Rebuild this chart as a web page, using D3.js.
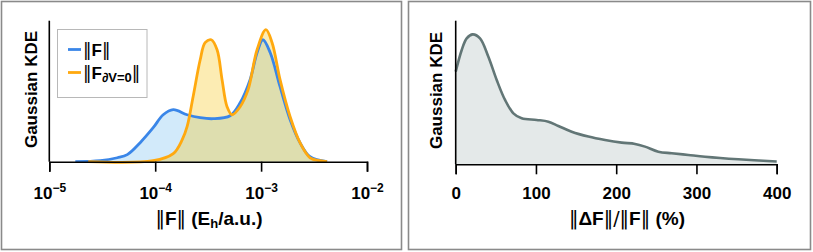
<!DOCTYPE html>
<html>
<head>
<meta charset="utf-8">
<script src="https://cdn.jsdelivr.net/npm/d3@7"></script>
<style>
  html, body { margin: 0; padding: 0; background: #fff; }
  svg { display: block; }
  text { font-family: "Liberation Sans", "DejaVu Sans", sans-serif; font-weight: bold; fill: #000; }
  .bar { font-family: "DejaVu Sans", sans-serif; font-weight: normal; }
</style>
</head>
<body>
<svg id="chart" width="813" height="252"></svg>
<script>
// ---------- data ----------
// Left panel: Gaussian KDE of ||F|| (Eh/a.u.), log x axis
const forceF_x = [1.76e-5, 3.03e-5, 4.39e-5, 5.45e-5, 7.21e-5, 9.57e-5, 1.19e-4, 1.48e-4, 2.00e-4, 2.66e-4,
                  3.52e-4, 5.10e-4, 6.34e-4, 7.87e-4, 9.16e-4, 1.04e-3, 1.22e-3, 1.51e-3, 1.88e-3, 2.33e-3,
                  2.90e-3, 4.20e-3];
const forceF_kde = [0.0, 0.007, 0.028, 0.05, 0.135, 0.241, 0.333, 0.369, 0.333, 0.312,
                    0.305, 0.326, 0.418, 0.582, 0.773, 0.865, 0.773, 0.532, 0.298, 0.135,
                    0.035, 0.0];
const forceF0_x = [2.33e-5, 9.57e-5, 1.48e-4, 1.80e-4, 2.00e-4, 2.28e-4, 2.66e-4, 2.96e-4, 3.38e-4, 3.84e-4,
                   4.28e-4, 4.77e-4, 5.32e-4, 6.34e-4, 7.54e-4, 9.16e-4, 1.11e-3, 1.27e-3, 1.51e-3, 1.88e-3,
                   2.33e-3, 2.90e-3, 3.60e-3, 4.20e-3];
const forceF0_kde = [0.0, 0.007, 0.057, 0.156, 0.248, 0.461, 0.723, 0.844, 0.865, 0.794,
                     0.582, 0.39, 0.333, 0.39, 0.511, 0.794, 0.936, 0.844, 0.582, 0.319,
                     0.135, 0.028, 0.007, 0.0];
const leftTickExponents = [-5, -4, -3, -2];

// Right panel: Gaussian KDE of ||ΔF||/||F|| (%)
const relDiff_x = [0, 7.5, 13.7, 21.2, 30.3, 40.7, 51.1, 61.5, 71.9, 82.2, 100.9, 115.5, 127.9, 144.5,
                   165.3, 186.1, 206.9, 223.5, 235.9, 252.5, 269.2, 289.9, 310.7, 352.2, 400];
const relDiff_kde = [0.645, 0.796, 0.877, 0.905, 0.877, 0.749, 0.587, 0.448, 0.355, 0.320, 0.309, 0.297,
                     0.267, 0.227, 0.193, 0.169, 0.151, 0.142, 0.123, 0.088, 0.077, 0.065, 0.053, 0.035, 0.019];
const rightTicks = [0, 100, 200, 300, 400];

// ---------- drawing ----------
const svg = d3.select("#chart");

// panel frames
svg.append("rect").attr("x", 1.5).attr("y", 1.5).attr("width", 400).attr("height", 248)
  .attr("fill", "none").attr("stroke", "#8a8a8a").attr("stroke-width", 1.6);
svg.append("rect").attr("x", 408.5).attr("y", 1.5).attr("width", 402).attr("height", 248)
  .attr("fill", "none").attr("stroke", "#8a8a8a").attr("stroke-width", 1.6);

const blue = "#3a86e8", orange = "#ffa90f", gray = "#627676";

// helper: append text with ‖ delimiters in a thin font
function normBar(t, s) { t.append("tspan").attr("class", "bar").text(s); }

// ----- left panel -----
const xL = d3.scaleLog().domain([1e-5, 1e-2]).range([49.3, 367]);
const yL = d3.scaleLinear().domain([0, 1]).range([161.7, 20.7]);

const gL = svg.append("g");
const seriesF = forceF_x.map((x, i) => [x, forceF_kde[i]]);
const seriesF0 = forceF0_x.map((x, i) => [x, forceF0_kde[i]]);

const areaL = d3.area().x(d => xL(d[0])).y0(yL(0)).y1(d => yL(d[1])).curve(d3.curveCatmullRom.alpha(0.5));
const lineL = d3.line().x(d => xL(d[0])).y(d => yL(d[1])).curve(d3.curveCatmullRom.alpha(0.5));

gL.append("path").datum(seriesF).attr("d", areaL).attr("fill", "#8ecbf2").attr("fill-opacity", 0.4);
gL.append("path").datum(seriesF0).attr("d", areaL).attr("fill", "#f5c518").attr("fill-opacity", 0.33);
gL.append("path").datum(seriesF).attr("d", lineL).attr("fill", "none").attr("stroke", blue)
  .attr("stroke-width", 2.8).attr("stroke-linejoin", "round");
gL.append("path").datum(seriesF0).attr("d", lineL).attr("fill", "none").attr("stroke", orange)
  .attr("stroke-width", 2.8).attr("stroke-linejoin", "round");

// left axes
const axL = gL.append("g").attr("transform", `translate(0,${yL(0)})`)
  .call(d3.axisBottom(xL).tickValues(leftTickExponents.map(e => Math.pow(10, e))).tickSize(10).tickFormat(""));
axL.select(".domain").attr("stroke", "#000").attr("stroke-width", 1.6);
axL.selectAll(".tick line").attr("stroke", "#000").attr("stroke-width", 1.6);
axL.selectAll(".tick").each(function(d, i) {
  const t = d3.select(this).append("text").attr("y", 37).attr("text-anchor", "middle")
    .style("font-size", "17px");
  t.append("tspan").text("10");
  t.append("tspan").attr("dy", -7).style("font-size", "12px").text("−" + Math.abs(leftTickExponents[i]));
});
gL.append("line").attr("x1", xL(1e-5)).attr("x2", xL(1e-5)).attr("y1", yL(0)).attr("y2", 20.7)
  .attr("stroke", "#000").attr("stroke-width", 1.6);

// left labels
const xtL = gL.append("text").attr("x", 209).attr("y", 225).attr("text-anchor", "middle").style("font-size", "19px");
normBar(xtL, "‖");
xtL.append("tspan").text("F");
normBar(xtL, "‖");
xtL.append("tspan").text(" (E");
xtL.append("tspan").attr("dy", 3).style("font-size", "13px").text("h");
xtL.append("tspan").attr("dy", -3).text("/a.u.)");

gL.append("text").attr("transform", "translate(37,89.5) rotate(-90)").attr("text-anchor", "middle")
  .style("font-size", "17px").text("Gaussian KDE");

// legend
const lg = gL.append("g");
lg.append("rect").attr("x", 57.5).attr("y", 29.5).attr("width", 89.5).attr("height", 68)
  .attr("fill", "#fff").attr("stroke", "#b8b8b8").attr("stroke-width", 1);
[blue, orange].forEach((c, i) => {
  const y = 49.5 + i * 23;
  lg.append("line").attr("x1", 68).attr("x2", 81).attr("y1", y).attr("y2", y)
    .attr("stroke", c).attr("stroke-width", 2.8);
});
const l1 = lg.append("text").attr("x", 83).attr("y", 55.5).style("font-size", "17px");
normBar(l1, "‖");
l1.append("tspan").text("F");
normBar(l1, "‖");
const l2 = lg.append("text").attr("x", 83).attr("y", 78.5).style("font-size", "17px");
normBar(l2, "‖");
l2.append("tspan").text("F");
l2.append("tspan").attr("dy", 3).style("font-size", "13px").style("font-style", "italic").text("∂");
l2.append("tspan").style("font-size", "13px").text("V=0");
l2.append("tspan").attr("dy", -3).attr("class", "bar").text("‖");

// ----- right panel -----
const xR = d3.scaleLinear().domain([0, 400]).range([455.7, 776.7]);
const yR = d3.scaleLinear().domain([0, 1]).range([164.3, 20.7]);
const gR = svg.append("g");
const seriesR = relDiff_x.map((x, i) => [x, relDiff_kde[i]]);

gR.append("path").datum(seriesR)
  .attr("d", d3.area().x(d => xR(d[0])).y0(yR(0)).y1(d => yR(d[1])).curve(d3.curveCatmullRom.alpha(0.5)))
  .attr("fill", "#e4e9e9");
gR.append("path").datum(seriesR)
  .attr("d", d3.line().x(d => xR(d[0])).y(d => yR(d[1])).curve(d3.curveCatmullRom.alpha(0.5)))
  .attr("fill", "none").attr("stroke", gray).attr("stroke-width", 2.6).attr("stroke-linejoin", "round");

const axR = gR.append("g").attr("transform", `translate(0,${yR(0)})`)
  .call(d3.axisBottom(xR).tickValues(rightTicks).tickSize(10).tickFormat(d3.format("d")));
axR.select(".domain").attr("stroke", "#000").attr("stroke-width", 1.6);
axR.selectAll(".tick line").attr("stroke", "#000").attr("stroke-width", 1.6);
axR.selectAll(".tick text").style("font-size", "17px").attr("fill", "#000")
  .style("font-family", "Liberation Sans, DejaVu Sans, sans-serif").style("font-weight", "bold")
  .attr("dy", null).attr("y", 35);
gR.append("line").attr("x1", xR(0)).attr("x2", xR(0)).attr("y1", yR(0)).attr("y2", 20.7)
  .attr("stroke", "#000").attr("stroke-width", 1.6);

const xtR = gR.append("text").attr("x", 627).attr("y", 225).attr("text-anchor", "middle").style("font-size", "19px");
normBar(xtR, "‖");
xtR.append("tspan").text("ΔF");
normBar(xtR, "‖/‖");
xtR.append("tspan").text("F");
normBar(xtR, "‖");
xtR.append("tspan").text(" (%)");

gR.append("text").attr("transform", "translate(442,90.5) rotate(-90)").attr("text-anchor", "middle")
  .style("font-size", "17px").text("Gaussian KDE");
</script>
</body>
</html>
